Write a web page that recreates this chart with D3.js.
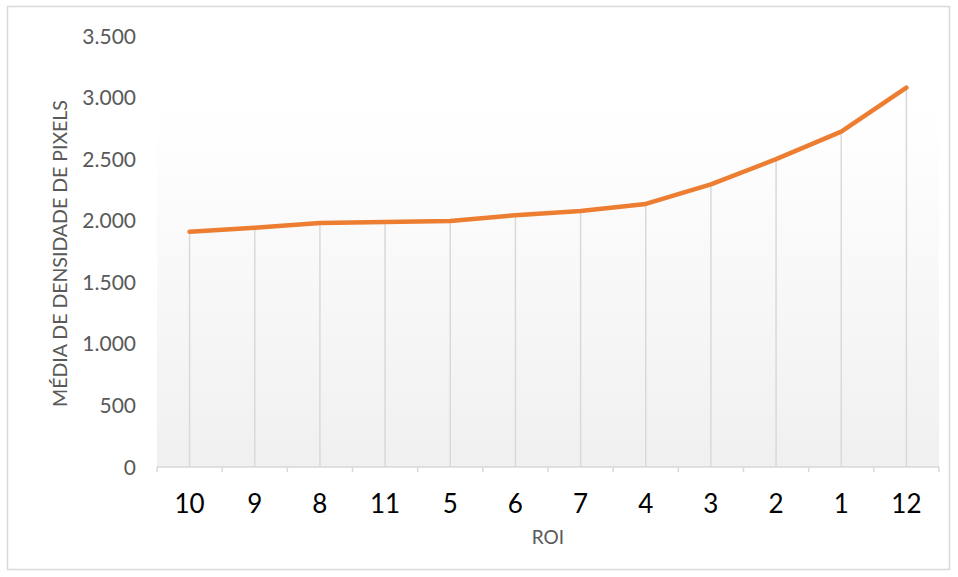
<!DOCTYPE html>
<html>
<head>
<meta charset="utf-8">
<script src="https://cdn.jsdelivr.net/npm/d3@7"></script>
<style>
  body { margin: 0; background: #fff; }
  text { font-family: Lato, "Open Sans", sans-serif; }
</style>
</head>
<body>
<script>
const rois = ["10", "9", "8", "11", "5", "6", "7", "4", "3", "2", "1", "12"];
const density = [1910, 1943, 1982, 1990, 1998, 2045, 2079, 2136, 2295, 2500, 2724, 3080];
const yTicks = [0, 500, 1000, 1500, 2000, 2500, 3000, 3500];

const width = 958, height = 577;
const plot = {left: 157, right: 939, top: 36, bottom: 467};

const svg = d3.select("body").append("svg").attr("width", width).attr("height", height);

// gradient fill of plot area
const grad = svg.append("defs").append("linearGradient")
    .attr("id", "bg").attr("x1", 0).attr("y1", 0).attr("x2", 0).attr("y2", 1);
grad.append("stop").attr("offset", "0%").attr("stop-color", "#ffffff");
grad.append("stop").attr("offset", "12%").attr("stop-color", "#fefefe");
grad.append("stop").attr("offset", "100%").attr("stop-color", "#f0f0f0");

svg.append("rect")
    .attr("x", 7.5).attr("y", 6.5).attr("width", 942).attr("height", 563)
    .attr("fill", "#fff").attr("stroke", "#d9d9d9").attr("stroke-width", 1.5);

const x = d3.scaleBand().domain(rois).range([plot.left, plot.right]);
const y = d3.scaleLinear().domain([0, 3500]).range([plot.bottom, plot.top]);

svg.append("rect")
    .attr("x", plot.left).attr("y", y(3080) + 5)
    .attr("width", plot.right - plot.left).attr("height", plot.bottom - y(3080) - 5)
    .attr("fill", "url(#bg)");

// drop lines
svg.append("g").selectAll("line")
    .data(density).enter()
    .append("line")
    .attr("x1", (d, i) => x(rois[i]) + x.bandwidth() / 2)
    .attr("x2", (d, i) => x(rois[i]) + x.bandwidth() / 2)
    .attr("y1", d => y(d))
    .attr("y2", plot.bottom)
    .attr("stroke", "#d9d9d9")
    .attr("stroke-width", 1.5);

// x axis
const xAxis = svg.append("g")
    .attr("transform", `translate(0,${plot.bottom})`);
xAxis.append("line")
    .attr("x1", plot.left).attr("x2", plot.right)
    .attr("stroke", "#d9d9d9").attr("stroke-width", 1.5);
xAxis.selectAll("line.tick")
    .data(rois.concat(["end"])).enter()
    .append("line").attr("class", "tick")
    .attr("x1", (d, i) => plot.left + i * x.bandwidth())
    .attr("x2", (d, i) => plot.left + i * x.bandwidth())
    .attr("y1", 0).attr("y2", 5)
    .attr("stroke", "#d9d9d9").attr("stroke-width", 1.5);
xAxis.selectAll("text")
    .data(rois).enter()
    .append("text")
    .attr("x", d => x(d) + x.bandwidth() / 2)
    .attr("y", 46)
    .attr("text-anchor", "middle")
    .attr("font-size", 26)
    .attr("fill", "#000")
    .text(d => d);

// y axis labels
const fmt = d3.formatLocale({decimal: ",", thousands: ".", grouping: [3], currency: ["", ""]}).format(",");
svg.append("g").selectAll("text")
    .data(yTicks).enter()
    .append("text")
    .attr("x", 136)
    .attr("y", d => y(d))
    .attr("dy", "0.36em")
    .attr("text-anchor", "end")
    .attr("font-size", 21)
    .attr("fill", "#595959")
    .text(d => fmt(d));

// line
svg.append("path")
    .datum(density)
    .attr("d", d3.line().x((d, i) => x(rois[i]) + x.bandwidth() / 2).y(d => y(d)))
    .attr("fill", "none")
    .attr("stroke", "#ed7d31")
    .attr("stroke-width", 4.5)
    .attr("stroke-linecap", "round")
    .attr("stroke-linejoin", "round");

// axis titles
svg.append("text")
    .attr("x", (plot.left + plot.right) / 2).attr("y", 544)
    .attr("text-anchor", "middle")
    .attr("font-size", 19)
    .attr("fill", "#595959")
    .text("ROI");

svg.append("text")
    .attr("transform", `translate(67,${(plot.top + plot.bottom) / 2 + 2}) rotate(-90)`)
    .attr("text-anchor", "middle")
    .attr("font-size", 19.5)
    .attr("fill", "#595959")
    .text("MÉDIA DE DENSIDADE DE PIXELS");
</script>
</body>
</html>
